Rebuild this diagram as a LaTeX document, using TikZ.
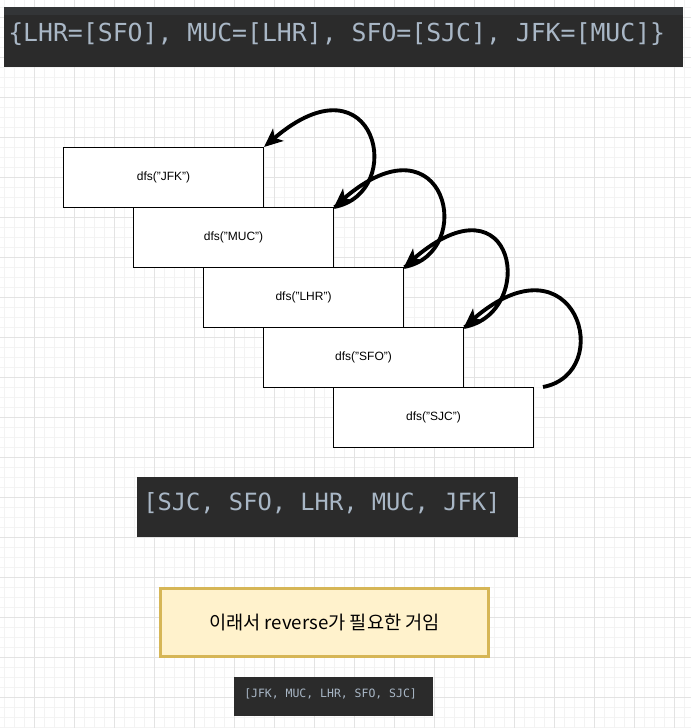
\documentclass[tikz,border=0pt]{standalone}
\usepackage{fontspec}
\setmainfont{Liberation Sans}
\newfontfamily\krfont{Noto Sans CJK KR}
\newfontfamily\codefont{DejaVu Sans Mono}
\usetikzlibrary{shapes,arrows.meta,positioning}
\definecolor{codebg}{HTML}{2B2B2B}
\definecolor{codetop}{HTML}{333537}
\definecolor{codefg}{HTML}{A9B7C6}
\definecolor{notefill}{HTML}{FFF2CC}
\definecolor{notedraw}{HTML}{D6B656}
\definecolor{gridmajor}{HTML}{E3E3E3}
\definecolor{gridminor}{HTML}{F3F3F3}

\begin{document}
\begin{tikzpicture}[x=.75pt,y=-.75pt,
		callbox/.style={draw,line width=.75pt,fill=white,anchor=north west,minimum width=150pt,minimum height=45pt,inner sep=0pt,font=\fontsize{9}{11}\selectfont},
		callarrow/.style={line width=2.9pt,-{Stealth[length=14pt,width=12pt,inset=3.5pt]}},
		codetext/.style={text=codefg,inner sep=0pt,anchor=west}]
			\useasboundingbox (0,0) rectangle (691,728);
			\fill[white] (0,0) rectangle (691,728);
			% background grid
			\foreach \gx in {-6,4,...,694} \draw[gridminor,line width=.75pt] (\gx,0) -- (\gx,728);
			\foreach \gy in {7,17,...,727} \draw[gridminor,line width=.75pt] (0,\gy) -- (691,\gy);
			\foreach \gx in {-6,34,...,694} \draw[gridmajor,line width=.75pt] (\gx,0) -- (\gx,728);
			\foreach \gy in {17,57,...,727} \draw[gridmajor,line width=.75pt] (0,\gy) -- (691,\gy);
			% input map
			\fill[codebg] (4,7) rectangle (683,67);
			\fill[codetop] (4,7) rectangle (683,15);
			\node[codetext,font=\codefont\fontsize{18.6}{20}\selectfont] (adjmap) at (8,34) {\{LHR=[SFO], MUC=[LHR], SFO=[SJC], JFK=[MUC]\}};
			% call stack
			\foreach \name/\lbl/\x/\y in {jfk/JFK/63/147, muc/MUC/133/207, lhr/LHR/203/267, sfo/SFO/263/327, sjc/SJC/333/387}
				\node[callbox] (\name) at (\x,\y) {dfs("\lbl")};
			\foreach \from/\to in {muc/jfk, lhr/muc, sfo/lhr}
				\draw[callarrow] (\from.north east) .. controls +(74,-14) and +(112,-96) .. (\to.north east);
			\coordinate (sjcout) at (543,387);
			\draw[callarrow] (sjcout) .. controls +(74,-14) and +(112,-96) .. (sfo.north east);
			% result
			\fill[codebg] (137,477) rectangle (518,537);
			\node[codetext,font=\codefont\fontsize{17.8}{19}\selectfont] (route) at (143,503) {[SJC, SFO, LHR, MUC, JFK]};
			\node[draw=notedraw,fill=notefill,line width=2.25pt,minimum width=246pt,minimum height=51pt,inner sep=0pt,font=\krfont\fontsize{14}{16}\selectfont] (note) at (324.5,622.5) {이래서 reverse가 필요한 거임};
			\fill[codebg] (234,677) rectangle (433,716);
			\node[codetext,font=\codefont\fontsize{8.6}{10}\selectfont] (reversed) at (244,694) {[JFK, MUC, LHR, SFO, SJC]};
		\end{tikzpicture}
\end{document}
